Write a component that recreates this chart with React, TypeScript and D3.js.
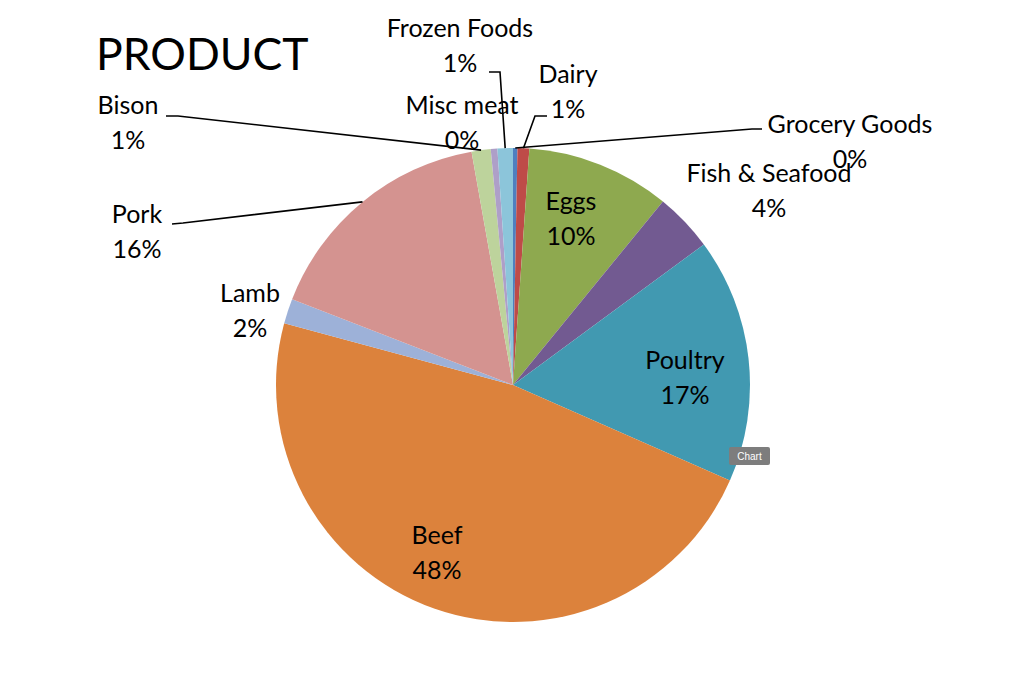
import React from "react";
import * as d3 from "d3";

const categories = [
  "Grocery Goods",
  "Dairy",
  "Eggs",
  "Fish & Seafood",
  "Poultry",
  "Beef",
  "Lamb",
  "Pork",
  "Bison",
  "Misc meat",
  "Frozen Foods",
];
const values = [0.3, 0.8, 9.8, 4.0, 16.7, 47.6, 1.7, 16.3, 1.3, 0.45, 1.05];
const colors = [
  "#4F7FBF",
  "#BE4B48",
  "#8EA94F",
  "#725A91",
  "#4199B1",
  "#DC823C",
  "#9DB1D8",
  "#D49390",
  "#BDD39C",
  "#AE9FC8",
  "#8CC5DA",
];
const title = "PRODUCT";

const W = 1024;
const H = 685;
const CX = 513;
const CY = 385;
const R = 237;

// label placement: [centerX, baseline of first line]
const labelLayout: Record<string, [number, number]> = {
  "Grocery Goods": [850, 133],
  Dairy: [568, 83],
  Eggs: [571, 210],
  "Fish & Seafood": [769, 182],
  Poultry: [685, 369],
  Beef: [437, 544],
  Lamb: [250, 302],
  Pork: [137, 223],
  Bison: [128, 114],
  "Misc meat": [462, 114],
  "Frozen Foods": [460, 37],
};
// leader polylines from the label side: [start, elbow]; end is on the slice edge
const leaderLayout: Record<string, [number, number][]> = {
  "Grocery Goods": [[762, 129], [752, 129]],
  Dairy: [[547, 116], [535, 116]],
  "Frozen Foods": [[489, 72], [500, 72]],
  Bison: [[166, 116], [178, 116]],
  Pork: [[172, 224], [183, 223]],
};

export default function App() {
  const total = d3.sum(values);
  const pie = d3
    .pie<number>()
    .sort(null)
    .value((d) => d)
    .startAngle(0)
    .endAngle(2 * Math.PI);
  const arcs = pie(values);
  const arc = d3.arc<d3.PieArcDatum<number>>().innerRadius(0).outerRadius(R);
  const fmt = (v: number) => `${Math.round((v / total) * 100)}%`;
  const font = "Lato, 'Open Sans', sans-serif";
  const fs = 25;

  return (
    <svg
      width={W}
      height={H}
      style={{ position: "absolute", left: 0, top: 0, background: "#fff" }}
    >
      <rect width={W} height={H} fill="#fff" />
      <g transform={`translate(${CX},${CY})`}>
        {arcs.map((a, i) => (
          <path key={i} d={arc(a) || ""} fill={colors[i]} />
        ))}
      </g>
      {arcs.map((a, i) => {
        const pts = leaderLayout[categories[i]];
        if (!pts) return null;
        const mid = (a.startAngle + a.endAngle) / 2;
        const end: [number, number] = [
          CX + R * Math.sin(mid),
          CY - R * Math.cos(mid),
        ];
        const line = d3.line()([...pts, end]);
        return (
          <path
            key={"l" + i}
            d={line || ""}
            fill="none"
            stroke="#000"
            strokeWidth={1.6}
          />
        );
      })}
      {categories.map((c, i) => {
        const [x, y] = labelLayout[c];
        return (
          <text
            key={"t" + i}
            x={x}
            y={y}
            textAnchor="middle"
            fontFamily={font}
            fontSize={fs}
            fill="#000"
          >
            <tspan x={x}>{c}</tspan>
            <tspan x={x} dy={35}>
              {fmt(values[i])}
            </tspan>
          </text>
        );
      })}
      <text x={96} y={70} fontFamily={font} fontSize={44.5} fill="#000">
        {title}
      </text>
      <g transform="translate(729,447)">
        <rect width={41} height={18} rx={2} fill="#7d7d7d" />
        <text
          x={20.5}
          y={13}
          textAnchor="middle"
          fontFamily="'Liberation Sans', Arial, sans-serif"
          fontSize={10}
          fill="#fff"
        >
          Chart
        </text>
      </g>
    </svg>
  );
}
